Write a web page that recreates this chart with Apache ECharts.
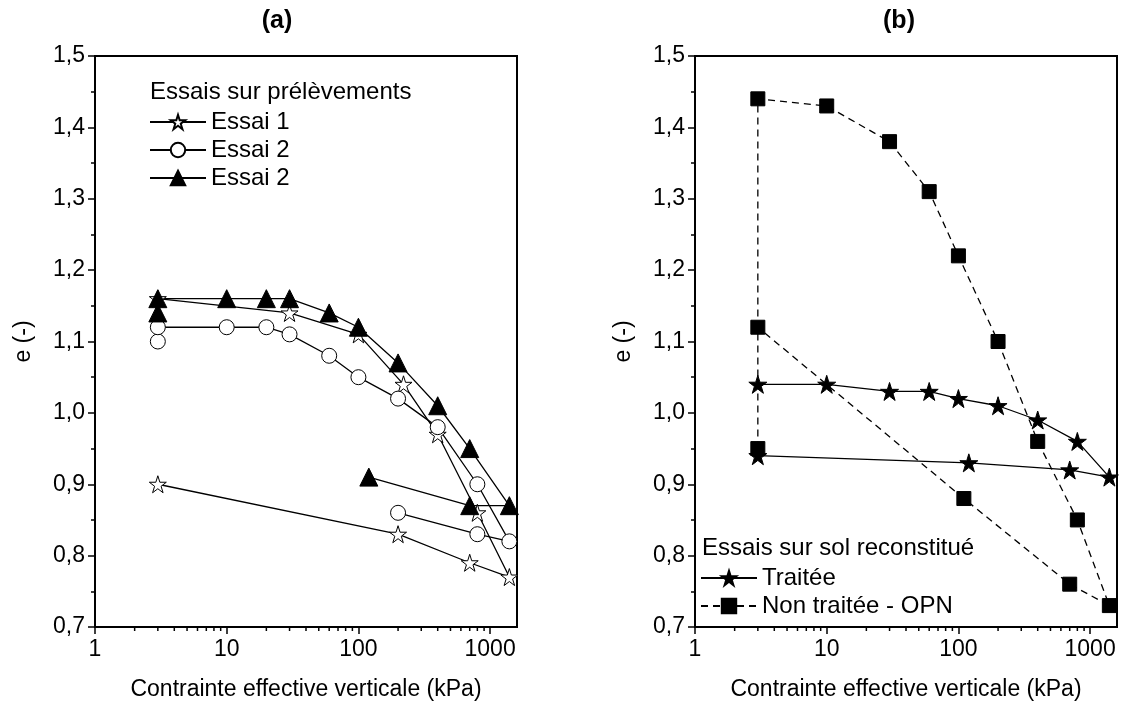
<!DOCTYPE html>
<html>
<head>
<meta charset="utf-8">
<script src="https://cdn.jsdelivr.net/npm/echarts@6/dist/echarts.min.js"></script>
<style>
html,body{margin:0;padding:0;background:#fff;}
#chart{width:1121px;height:707px;}
</style>
</head>
<body>
<div id="chart"></div>
<script>
// ---------- Data ----------
// Panel (a) : Essais sur prélèvements
const essai1X = [3, 30, 100, 220, 400, 800, 1400, 700, 200, 3];
const essai1E = [1.16, 1.14, 1.11, 1.04, 0.97, 0.86, 0.77, 0.79, 0.83, 0.90];

const essai2X = [3, 3, 10, 20, 30, 60, 100, 200, 400, 800, 1400, 800, 200];
const essai2E = [1.10, 1.12, 1.12, 1.12, 1.11, 1.08, 1.05, 1.02, 0.98, 0.90, 0.82, 0.83, 0.86];

const essai3X = [3, 3, 10, 20, 30, 60, 100, 200, 400, 700, 1400, 700, 120];
const essai3E = [1.14, 1.16, 1.16, 1.16, 1.16, 1.14, 1.12, 1.07, 1.01, 0.95, 0.87, 0.87, 0.91];

// Panel (b) : Essais sur sol reconstitué
const traiteeX = [3, 10, 30, 60, 100, 200, 400, 800, 1400, 700, 120, 3];
const traiteeE = [1.04, 1.04, 1.03, 1.03, 1.02, 1.01, 0.99, 0.96, 0.91, 0.92, 0.93, 0.94];

const nonTraiteeX = [3, 3, 10, 30, 60, 100, 200, 400, 800, 1400, 700, 110, 3];
const nonTraiteeE = [0.95, 1.44, 1.43, 1.38, 1.31, 1.22, 1.10, 0.96, 0.85, 0.73, 0.76, 0.88, 1.12];

// Axis ticks
const yMin = 0.7, yMax = 1.5, yStep = 0.1;
const xMin = 1, xMax = 1600;
const minorTicksX = [2,3,4,5,6,7,8,9,20,30,40,50,60,70,80,90,200,300,400,500,600,700,800,900];

const namesA = ['Essai 1', 'Essai 2', 'Essai 2 '];
const namesB = ['Traitée', 'Non traitée - OPN'];

// ---------- Helpers ----------
const zip = (xs, ys) => xs.map((x, i) => [x, ys[i]]);
const FONT = 'Liberation Sans, Arial, Helvetica, sans-serif';
const STAR = 'path://M100 0 L122.45 69.1 L195.11 69.1 L136.33 111.8 L158.78 180.9 L100 138.2 L41.22 180.9 L63.67 111.8 L4.89 69.1 L77.55 69.1 Z';

function xAxisCfg(gi) {
  return {
    type: 'log', logBase: 10, gridIndex: gi, min: xMin, max: xMax,
    name: 'Contrainte effective verticale (kPa)', nameLocation: 'middle', nameGap: 51,
    nameTextStyle: {color: '#000', fontSize: 23, fontFamily: FONT},
    axisLine: {show: true, lineStyle: {color: '#000', width: 2}},
    axisTick: {show: true, length: 7, lineStyle: {color: '#000', width: 1.5}},
    axisLabel: {
      color: '#000', fontSize: 23, fontFamily: FONT, margin: 11,
      showMaxLabel: false,
      formatter: v => { const l = Math.log10(v); return Math.abs(l - Math.round(l)) < 1e-6 ? String(Math.round(v)) : ''; }
    },
    splitLine: {show: false}, minorTick: {show: false}, minorSplitLine: {show: false}
  };
}
function yAxisCfg(gi) {
  return {
    type: 'value', gridIndex: gi, min: yMin, max: yMax, interval: yStep,
    name: 'e (-)', nameLocation: 'middle', nameGap: 60,
    nameTextStyle: {color: '#000', fontSize: 23, fontFamily: FONT},
    axisLine: {show: true, lineStyle: {color: '#000', width: 2}},
    axisTick: {show: true, length: 7, lineStyle: {color: '#000', width: 1.5}},
    minorTick: {show: true, splitNumber: 2, length: 4, lineStyle: {color: '#000', width: 1.5}},
    axisLabel: {color: '#000', fontSize: 23, fontFamily: FONT, margin: 10,
      formatter: v => v.toFixed(1).replace('.', ',')},
    splitLine: {show: false}
  };
}
function minorTickSeries(gi) {
  return {
    type: 'custom', xAxisIndex: gi, yAxisIndex: gi, silent: true, clip: false,
    data: minorTicksX.map(v => [v, yMin]),
    renderItem: (params, api) => {
      const p = api.coord([api.value(0), api.value(1)]);
      return {type: 'line', shape: {x1: p[0], y1: p[1], x2: p[0], y2: p[1] + 4},
        style: {stroke: '#000', lineWidth: 1.5}};
    }
  };
}
function lineSeries(name, gi, data, symbol, size, fill, dashed) {
  return {
    name: name, type: 'line', xAxisIndex: gi, yAxisIndex: gi, data: data,
    symbol: symbol, symbolSize: size, showAllSymbol: true,
    lineStyle: {color: '#000', width: 1.3, type: dashed ? [7, 5] : 'solid'},
    itemStyle: {color: fill, borderColor: '#000', borderWidth: 1},
    emphasis: {disabled: true}, z: 3
  };
}

const chart = echarts.init(document.getElementById('chart'), null, {renderer: 'canvas'});
chart.setOption({
  animation: false,
  backgroundColor: '#fff',
  grid: [
    {left: 95, width: 422, top: 56, height: 571, show: true, borderColor: '#000', borderWidth: 2, backgroundColor: 'transparent'},
    {left: 695, width: 422, top: 56, height: 571, show: true, borderColor: '#000', borderWidth: 2, backgroundColor: 'transparent'}
  ],
  xAxis: [xAxisCfg(0), xAxisCfg(1)],
  yAxis: [yAxisCfg(0), yAxisCfg(1)],
  legend: [
    {data: namesA, orient: 'vertical', left: 149, top: 110, itemWidth: 56, itemHeight: 18, itemGap: 4,
      padding: 0, selectedMode: false, formatter: n => n.trim(),
      textStyle: {color: '#000', fontSize: 24, fontFamily: FONT}},
    {data: namesB, orient: 'vertical', left: 700, top: 566, itemWidth: 56, itemHeight: 18, itemGap: 4,
      padding: 0, selectedMode: false,
      textStyle: {color: '#000', fontSize: 24, fontFamily: FONT}}
  ],
  graphic: [
    {type: 'text', x: 277, y: 21, style: {text: '(a)', font: 'bold 25px ' + FONT, fill: '#000', align: 'center', verticalAlign: 'middle'}},
    {type: 'text', x: 899, y: 21, style: {text: '(b)', font: 'bold 25px ' + FONT, fill: '#000', align: 'center', verticalAlign: 'middle'}},
    {type: 'text', x: 150, y: 92, style: {text: 'Essais sur prélèvements', font: '24px ' + FONT, fill: '#000', align: 'left', verticalAlign: 'middle'}},
    {type: 'text', x: 702, y: 548, style: {text: 'Essais sur sol reconstitué', font: '24px ' + FONT, fill: '#000', align: 'left', verticalAlign: 'middle'}}
  ],
  series: [
    minorTickSeries(0), minorTickSeries(1),
    lineSeries(namesA[0], 0, zip(essai1X, essai1E), STAR, 17, '#fff', false),
    lineSeries(namesA[1], 0, zip(essai2X, essai2E), 'circle', 15, '#fff', false),
    lineSeries(namesA[2], 0, zip(essai3X, essai3E), 'triangle', 18, '#000', false),
    lineSeries(namesB[0], 1, zip(traiteeX, traiteeE), STAR, 18, '#000', false),
    lineSeries(namesB[1], 1, zip(nonTraiteeX, nonTraiteeE), 'rect', 14, '#000', true)
  ]
});
</script>
</body>
</html>
